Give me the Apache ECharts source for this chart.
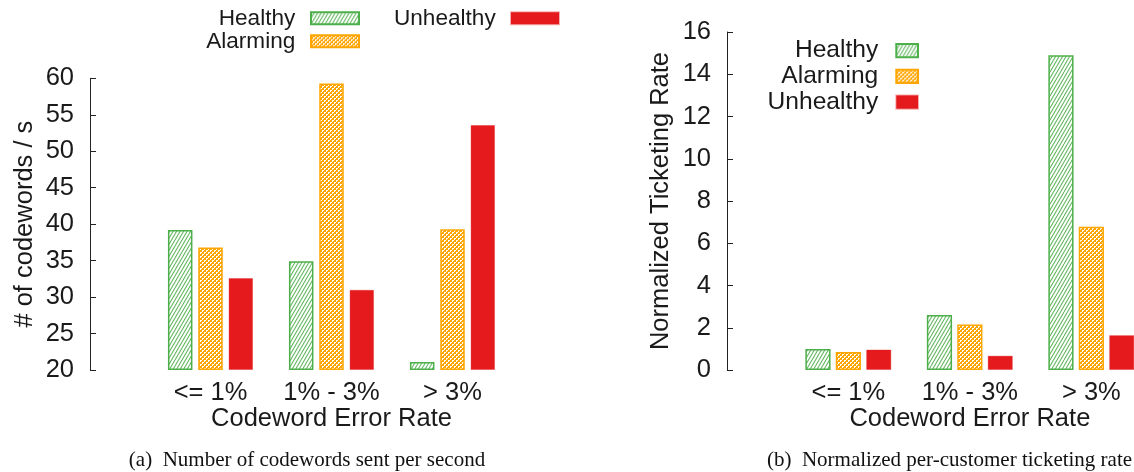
<!DOCTYPE html>
<html>
<head>
<meta charset="utf-8">
<script src="https://cdn.jsdelivr.net/npm/echarts@6/dist/echarts.min.js"></script>
<style>
  html, body { margin: 0; padding: 0; background: #fff; }
  #chart { width: 1134px; height: 472px; }
</style>
</head>
<body>
<div id="chart"></div>
<script>
// Categories and series
const categories = ['<= 1%', '1% - 3%', '> 3%'];
const seriesNames = ['Healthy', 'Alarming', 'Unhealthy'];

// (a) number of codewords sent per second
const codewordsHealthy = [39.2, 34.9, 21.1];
const codewordsAlarming = [36.8, 59.3, 39.3];
const codewordsUnhealthy = [32.6, 31.0, 53.6];

// (b) normalized per-customer ticketing rate
const ticketingHealthy = [1.0, 2.6, 14.9];
const ticketingAlarming = [0.85, 2.15, 6.78];
const ticketingUnhealthy = [0.97, 0.68, 1.65];

// Value axis ranges (min, max, step)
const codewordsAxis = [20, 60, 5];
const ticketingAxis = [0, 16, 2];

const captionA = '(a)  Number of codewords sent per second';
const captionB = '(b)  Normalized per-customer ticketing rate';
const xTitle = 'Codeword Error Rate';
const yTitleA = '# of codewords / s';
const yTitleB = 'Normalized Ticketing Rate';

const SANS = '"Liberation Sans", Arial, Helvetica, sans-serif';
const SERIF = '"Liberation Serif", "Times New Roman", serif';
const INK = '#1a1a1a';

// Fill patterns: green diagonal hatch and orange checker
function hatchPattern() {
  const c = document.createElement('canvas');
  c.width = 7; c.height = 12;
  const g = c.getContext('2d');
  g.fillStyle = '#ffffff';
  g.fillRect(0, 0, 7, 12);
  g.strokeStyle = '#5db45a';
  g.lineWidth = 1.1;
  for (let k = -3; k <= 3; k++) {
    g.beginPath();
    g.moveTo(k * 3.5, 12);
    g.lineTo(k * 3.5 + 7, 0);
    g.stroke();
  }
  return c;
}
function checkerPattern() {
  const c = document.createElement('canvas');
  c.width = 4; c.height = 4;
  const g = c.getContext('2d');
  g.fillStyle = '#ffa500';
  g.fillRect(0, 0, 4, 4);
  g.fillStyle = '#ffffff';
  g.fillRect(0, 0, 2, 1);
  g.fillRect(0, 1, 1, 1);
  g.fillRect(2, 2, 2, 1);
  g.fillRect(2, 3, 1, 1);
  return c;
}

const styles = {
  Healthy: { color: { image: hatchPattern(), repeat: 'repeat' }, borderColor: '#4daf4a', borderWidth: 1.5 },
  Alarming: { color: { image: checkerPattern(), repeat: 'repeat' }, borderColor: '#ffa500', borderWidth: 1.5 },
  Unhealthy: { color: '#e41a1c', borderColor: 'rgba(228,26,28,0.35)', borderWidth: 1 }
};

function bar(name, data, idx, width, gap) {
  return {
    type: 'bar', name: name, data: data,
    xAxisIndex: idx, yAxisIndex: idx,
    barWidth: width, barGap: gap,
    itemStyle: styles[name],
    emphasis: { disabled: true },
    silent: true
  };
}

function xAxisFor(idx) {
  return {
    type: 'category', gridIndex: idx, data: categories,
    axisLine: { show: false }, axisTick: { show: false },
    axisLabel: { fontFamily: SANS, fontSize: 25.5, color: INK, margin: 10, interval: 0, hideOverlap: false },
    splitLine: { show: false },
    name: xTitle, nameLocation: 'middle', nameGap: 36,
    nameTextStyle: { fontFamily: SANS, fontSize: 25.5, color: INK },
    nameMoveOverlap: false
  };
}

function yAxisFor(idx, range, offset, title, gap) {
  return {
    type: 'value', gridIndex: idx,
    min: range[0], max: range[1], interval: range[2], startValue: range[0],
    offset: offset,
    axisLine: { show: true, lineStyle: { color: '#222', width: 1 } },
    axisTick: { show: true, inside: true, length: 6, lineStyle: { color: '#222', width: 1 } },
    axisLabel: { fontFamily: SANS, fontSize: 25.5, color: INK, margin: 16 },
    splitLine: { show: false },
    name: title, nameLocation: 'middle', nameGap: gap,
    nameTextStyle: { fontFamily: SANS, fontSize: 25.5, color: INK },
    nameMoveOverlap: false
  };
}

function legend(names, right, top, w, h, fontSize, lineHeight, textGap) {
  return {
    data: names, orient: 'vertical', align: 'right', icon: 'rect',
    right: right, top: top, padding: 0, itemGap: 0,
    itemWidth: w, itemHeight: h, selectedMode: false,
    textStyle: { fontFamily: SANS, fontSize: fontSize, color: INK, lineHeight: lineHeight, padding: [0, textGap, 0, 0] }
  };
}

const chart = echarts.init(document.getElementById('chart'), null, { renderer: 'canvas' });
chart.setOption({
  animation: false,
  backgroundColor: '#ffffff',
  grid: [
    { left: 150, top: 78.3, width: 363, height: 291.7, containLabel: false, outerBoundsMode: 'none' },
    { left: 787.6, top: 32, width: 364.5, height: 338, containLabel: false, outerBoundsMode: 'none' }
  ],
  xAxis: [xAxisFor(0), xAxisFor(1)],
  yAxis: [
    yAxisFor(0, codewordsAxis, 60, yTitleA, 52),
    yAxisFor(1, ticketingAxis, 60.6, yTitleB, 53)
  ],
  legend: [
    legend(['Healthy', 'Alarming'], 774, 6.8, 48, 12, 22.6, 23, 10.7),
    legend(['Unhealthy'], 574, 6.8, 48, 12, 22.6, 23, 10.3),
    legend(seriesNames, 215, 37.8, 21.7, 13.3, 24.6, 25.7, 13)
  ],
  series: [
    bar('Healthy', codewordsHealthy, 0, 24.5, '23.7%'),
    bar('Alarming', codewordsAlarming, 0, 24.5, '23.7%'),
    bar('Unhealthy', codewordsUnhealthy, 0, 24.5, '23.7%'),
    bar('Healthy', ticketingHealthy, 1, 25.2, '20.6%'),
    bar('Alarming', ticketingAlarming, 1, 25.2, '20.6%'),
    bar('Unhealthy', ticketingUnhealthy, 1, 25.2, '20.6%')
  ],
  graphic: [
    { type: 'text', x: 307, y: 460, silent: true,
      style: { text: captionA, font: '21px ' + SERIF, fill: '#111', align: 'center', verticalAlign: 'middle', textAlign: 'center', textVerticalAlign: 'middle' } },
    { type: 'text', x: 949.5, y: 460, silent: true,
      style: { text: captionB, font: '21px ' + SERIF, fill: '#111', align: 'center', verticalAlign: 'middle', textAlign: 'center', textVerticalAlign: 'middle' } }
  ]
});
</script>
</body>
</html>
